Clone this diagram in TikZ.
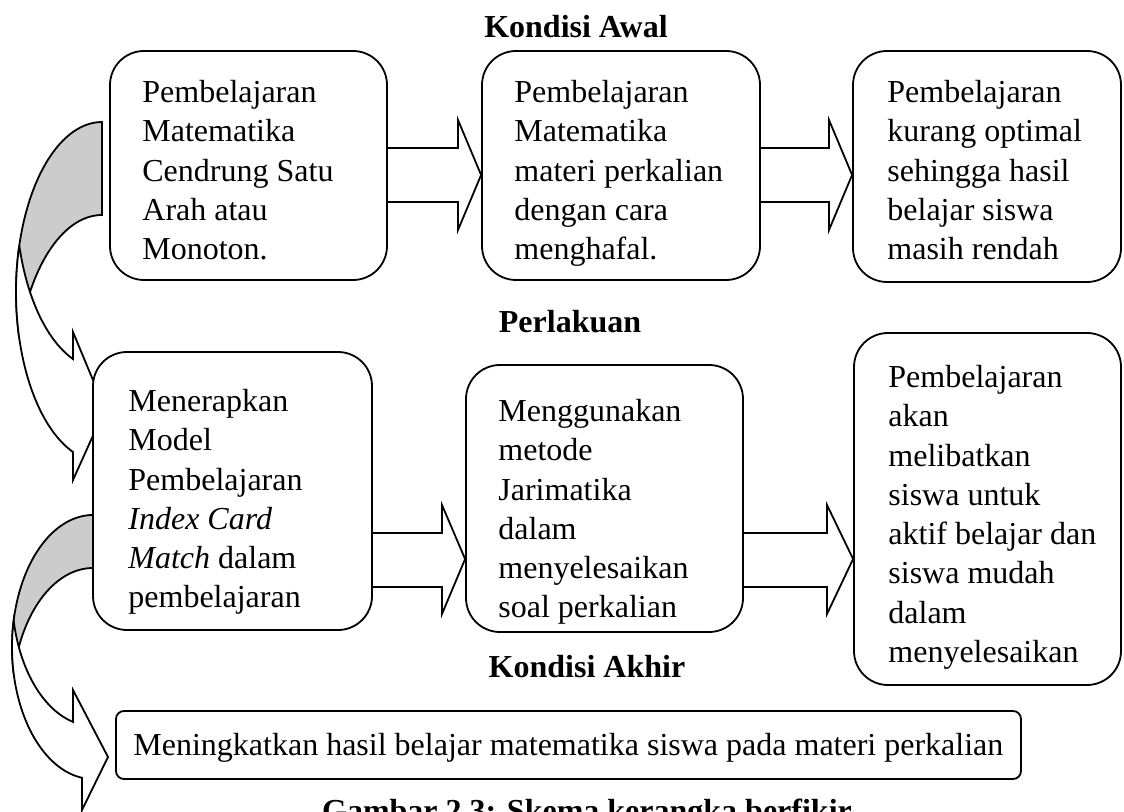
\documentclass[tikz,border=0pt]{standalone}
\usepackage{fontspec}
\setmainfont{Liberation Serif}
\usetikzlibrary{calc,fit}
\definecolor{backgray}{RGB}{204,204,204}
\begin{document}
\begin{tikzpicture}[x=0.5pt,y=-0.5pt,
  box/.style={draw=black, line width=0.9pt, fill=white, rounded corners=17pt, inner sep=0pt},
  finalbox/.style={draw=black, line width=0.9pt, fill=white, rounded corners=4pt, inner sep=0pt},
  txt/.style={inner sep=0pt, align=left, anchor=north west, font=\fontsize{16}{19.65}\selectfont},
  ttl/.style={inner sep=0pt, anchor=base, font=\fontsize{16}{19.65}\selectfont\bfseries},
  blockarrow/.style={draw=black, line width=0.9pt, line join=miter},
  curveback/.style={draw=black, line width=0.9pt, fill=backgray},
  curvefront/.style={draw=black, line width=0.9pt, fill=white}]
\useasboundingbox (0,0) rectangle (1124,812);

% curved arrow: Kondisi Awal -> Perlakuan
\draw[curveback] (102,215) -- (102,122)
  -- plot[domain=90:195.87, samples=40, variable=\t] ({102+86*cos(\t)},{292-170*sin(\t)})
  -- plot[domain=164.13:90, samples=40, variable=\t] ({102+86*cos(\t)},{385-170*sin(\t)})
  -- cycle;
\draw[curvefront]
  plot[domain=164.13:250.29, samples=40, variable=\t] ({102+86*cos(\t)},{292-170*sin(\t)})
  -- (73,480) -- (105,409) -- (73,332)
  -- plot[domain=250.29:195.87, samples=40, variable=\t] ({102+86*cos(\t)},{199-170*sin(\t)})
  -- cycle;

% curved arrow: Perlakuan -> Kondisi Akhir
\draw[curveback] (93,568) -- (93,515)
  -- plot[domain=90:191.58, samples=40, variable=\t] ({93+81*cos(\t)},{647-132*sin(\t)})
  -- plot[domain=168.42:90, samples=40, variable=\t] ({93+81*cos(\t)},{700-132*sin(\t)})
  -- cycle;
\draw[curvefront]
  plot[domain=168.42:262.2, samples=40, variable=\t] ({93+81*cos(\t)},{647-132*sin(\t)})
  -- (82,810) -- (108,757) -- (73,690)
  -- plot[domain=255.71:191.58, samples=40, variable=\t] ({93+81*cos(\t)},{594-132*sin(\t)})
  -- cycle;

% boxes
\node[box, fit={(110,51) (387,280)}] (b1) {};
\node[box, fit={(482,51) (760,280)}] (b2) {};
\node[box, fit={(853,51) (1121,282)}] (b3) {};
\node[box, fit={(93,352) (372,630)}] (b4) {};
\node[box, fit={(466,365) (743,632)}] (b5) {};
\node[box, fit={(854,333) (1121,685)}] (b6) {};
\node[finalbox, fit={(116,711) (1021,779)}] (b7) {};

% block arrows
\draw[blockarrow] (b1.east |- 0,148) -- (458,148) -- (458,120) -- (b2.west |- 0,175)
  -- (458,230) -- (458,202) -- (b1.east |- 0,202);
\draw[blockarrow] (b2.east |- 0,148) -- (829,148) -- (829,120) -- (b3.west |- 0,175)
  -- (829,230) -- (829,202) -- (b2.east |- 0,202);
\draw[blockarrow] (b4.east |- 0,533) -- (442,533) -- (442,505) -- (b5.west |- 0,559)
  -- (442,614) -- (442,587) -- (b4.east |- 0,587);
\draw[blockarrow] (b5.east |- 0,533) -- (827,533) -- (827,505) -- (b6.west |- 0,559)
  -- (827,614) -- (827,587) -- (b5.east |- 0,587);

% titles
\node[ttl] (h1) at (576,38) {Kondisi Awal};
\node[ttl] (h2) at (570,333) {Perlakuan};
\node[ttl] (h3) at (587,677) {Kondisi Akhir};
\node[ttl] (cap) at (587,821) {Gambar 2.3: Skema kerangka berfikir};

% texts
\node[txt] (t1) at (142,74.5) {\strut Pembelajaran\\Matematika\\Cendrung Satu\\Arah atau\\Monoton.};
\node[txt] (t2) at (514,74.5) {\strut Pembelajaran\\Matematika\\materi perkalian\\dengan cara\\menghafal.};
\node[txt] (t3) at (887,74.5) {\strut Pembelajaran\\kurang optimal\\sehingga hasil\\belajar siswa\\masih rendah};
\node[txt] (t4) at (128,383.5) {\strut Menerapkan\\Model\\Pembelajaran\\\textit{Index Card}\\\textit{Match} dalam\\pembelajaran};
\node[txt] (t5) at (498,393.5) {\strut Menggunakan\\metode\\Jarimatika\\dalam\\menyelesaikan\\soal perkalian};
\node[txt] (t6) at (888,359.5) {\strut Pembelajaran\\akan\\melibatkan\\siswa untuk\\aktif belajar dan\\siswa mudah\\dalam\\menyelesaikan};
\node[inner sep=0pt, anchor=base west, font=\fontsize{16}{19.65}\selectfont] (t7) at (133,755) {Meningkatkan hasil belajar matematika siswa pada materi perkalian};
\end{tikzpicture}
\end{document}
